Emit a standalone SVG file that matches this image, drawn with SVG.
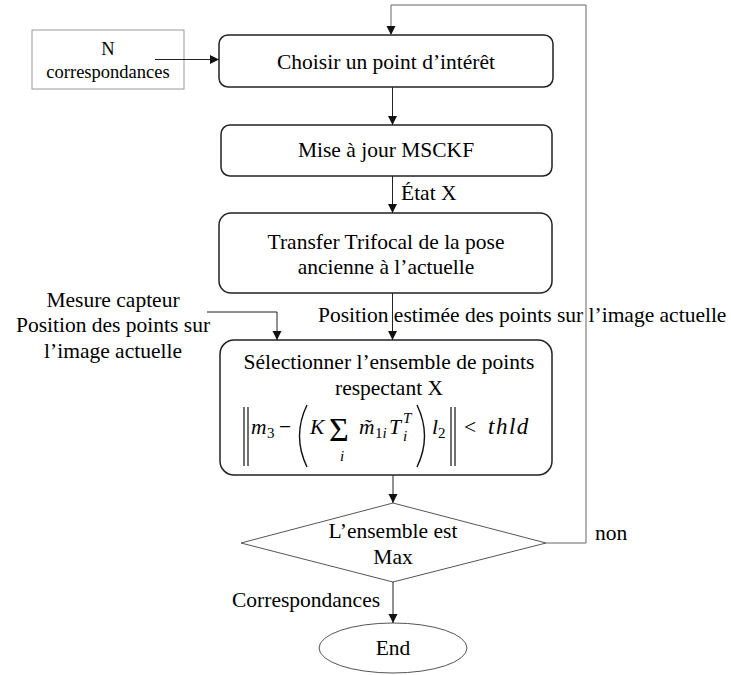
<svg xmlns="http://www.w3.org/2000/svg" width="731" height="675" viewBox="0 0 731 675" font-family="Liberation Serif, Tinos, Times New Roman, serif">
<style>
text{font-family:"Liberation Serif",Tinos,"Times New Roman",serif;fill:#000;font-size:21.5px}
.c{text-anchor:middle}
.box{fill:#fff;stroke:#222;stroke-width:1.5}
.thin{fill:#fff;stroke:#555;stroke-width:1}
.conn{fill:none;stroke:#222;stroke-width:1}
.loop{fill:none;stroke:#666;stroke-width:1}
.it{font-style:italic}
.sm{font-size:15px}
.bar{stroke:#111;stroke-width:1.2}
.par{fill:none;stroke:#111;stroke-width:1.4}
</style>
<defs>
<marker id="ah" markerWidth="10" markerHeight="10" refX="9" refY="5" orient="auto" markerUnits="userSpaceOnUse">
<path d="M0,0.5 L9,5 L0,9.5 Z" fill="#111"/>
</marker>
</defs>
<rect width="731" height="675" fill="#fff"/>

<g id="nodeN">
<rect x="32" y="30" width="152" height="59" fill="#fff" stroke="#999" stroke-width="1"/>
<text class="c" x="108" y="55" style="font-size:18.5px">N</text>
<text class="c" x="108" y="78" style="font-size:18.5px">correspondances</text>
</g>

<g id="nodeChoisir">
<rect class="box" x="219" y="35" width="334" height="52" rx="9"/>
<text class="c" x="386" y="69">Choisir un point d’intérêt</text>
</g>

<g id="nodeMise">
<rect class="box" x="221" y="125" width="331" height="51" rx="9"/>
<text class="c" x="386" y="157">Mise à jour MSCKF</text>
</g>

<g id="nodeTransfer">
<rect class="box" x="219" y="213" width="333" height="80" rx="12"/>
<text class="c" x="386" y="249">Transfer Trifocal de la pose</text>
<text class="c" x="386" y="274">ancienne à l’actuelle</text>
</g>

<g id="nodeSelect">
<rect class="box" x="220" y="340" width="332" height="135" rx="14"/>
<text class="c" x="389" y="369">Sélectionner l’ensemble de points</text>
<text class="c" x="389" y="395">respectant X</text>
<line class="bar" x1="244" y1="407" x2="244" y2="466"/>
<line class="bar" x1="248" y1="407" x2="248" y2="466"/>
<text class="it" x="251" y="434">m</text>
<text class="sm" x="267" y="438">3</text>
<text x="279" y="434">−</text>
<path class="par" d="M307,405 Q292,436 307,467"/>
<text class="it" x="310" y="434">K</text>
<text x="329" y="441" style="font-size:34px">Σ</text>
<text class="it sm c" x="342" y="461">i</text>
<text class="it" x="359" y="434">m̃</text>
<text class="sm" x="375" y="438">1<tspan class="it">i</tspan></text>
<text class="it" x="389" y="434">T</text>
<text class="it sm" x="403" y="423">T</text>
<text class="it sm" x="403" y="441">i</text>
<path class="par" d="M417,405 Q432,436 417,467"/>
<text class="it" x="432" y="434">l</text>
<text class="sm" x="438" y="438">2</text>
<line class="bar" x1="451" y1="407" x2="451" y2="466"/>
<line class="bar" x1="455" y1="407" x2="455" y2="466"/>
<text x="464" y="434">&lt;</text>
<text class="it" x="488" y="434" style="font-size:23px;letter-spacing:1.5px">thld</text>
</g>

<g id="nodeDecision">
<polygon class="thin" points="393,503 546,543 393,582 241,543"/>
<text class="c" x="393" y="538">L’ensemble est</text>
<text class="c" x="393" y="564">Max</text>
</g>

<g id="nodeEnd">
<ellipse class="thin" cx="393" cy="648" rx="74" ry="25"/>
<text class="c" x="393" y="655">End</text>
</g>

<g id="labels">
<text class="c" x="113" y="307">Mesure capteur</text>
<text class="c" x="113" y="332">Position des points sur</text>
<text class="c" x="113" y="358">l’image actuelle</text>
</g>

<g id="connectors">
<line class="conn" x1="155" y1="59.5" x2="219" y2="59.5" marker-end="url(#ah)"/>
<line class="conn" x1="392.5" y1="87" x2="392.5" y2="125" marker-end="url(#ah)"/>
<line class="conn" x1="392.5" y1="176" x2="392.5" y2="213" marker-end="url(#ah)"/>
<text x="401" y="200">État X</text>
<line class="conn" x1="392.5" y1="293" x2="392.5" y2="340" marker-end="url(#ah)"/>
<text x="318" y="322">Position estimée des points sur l’image actuelle</text>
<polyline class="conn" points="207,312 277,312 277,340" marker-end="url(#ah)"/>
<line class="conn" x1="393" y1="475" x2="393" y2="503" marker-end="url(#ah)"/>
<polyline class="loop" points="546,543 586,543 586,5 391,5 391,35" marker-end="url(#ah)"/>
<text x="595" y="540">non</text>
<line class="conn" x1="393" y1="582" x2="393" y2="623" marker-end="url(#ah)"/>
<text x="232" y="607">Correspondances</text>
</g>
</svg>
